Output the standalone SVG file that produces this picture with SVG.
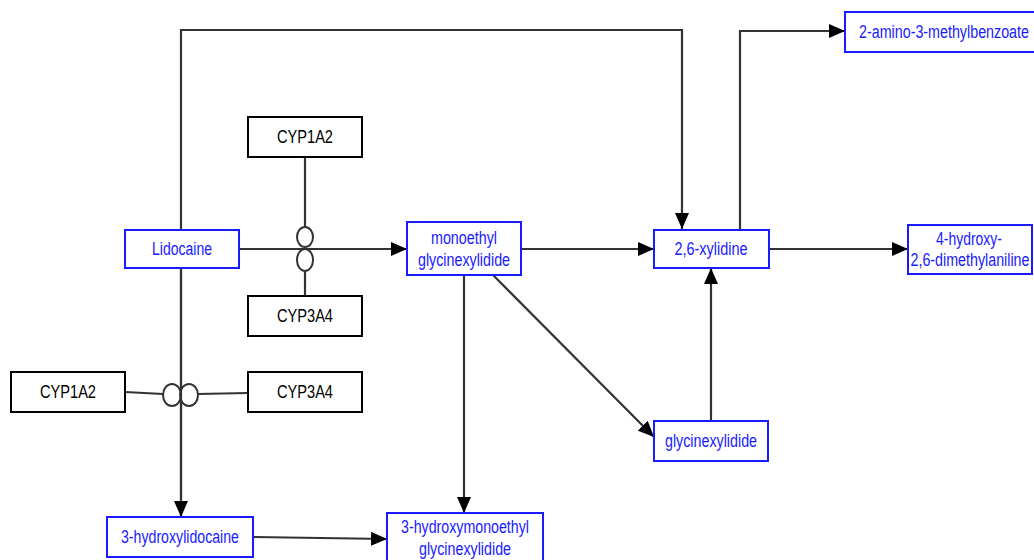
<svg xmlns="http://www.w3.org/2000/svg" width="1034" height="560" viewBox="0 0 1034 560">
<defs>
<marker id="arr" markerWidth="16" markerHeight="14" refX="16" refY="7" orient="auto" markerUnits="userSpaceOnUse">
<path d="M0,0 L16,7 L0,14 Z" fill="#000"/>
</marker>
<style>
.m rect{fill:#fff;stroke:#1a1aff;stroke-width:2}
.m text{fill:#1a1aff;font-family:"Liberation Sans Narrow","Liberation Sans",Arial,sans-serif;font-size:18px;text-anchor:middle}
.e rect{fill:#fff;stroke:#000;stroke-width:2}
.e text{fill:#000;font-family:"Liberation Sans Narrow","Liberation Sans",Arial,sans-serif;font-size:18px;text-anchor:middle}
.c path,.c line{fill:none;stroke:#333;stroke-width:2.2}
.c .a{marker-end:url(#arr)}
.c ellipse{fill:#fff;stroke:#333;stroke-width:2}
</style>
</defs>
<rect width="1034" height="560" fill="#fff"/>
<g class="c" id="connectors">
<path class="a" d="M181,230 V30 H682 V229"/>
<path class="a" d="M239,249 H407"/>
<path class="a" d="M181,268 V517"/>
<line x1="305" y1="157" x2="305" y2="227"/>
<line x1="305" y1="296" x2="305" y2="272"/>
<line x1="125" y1="392" x2="163" y2="394"/>
<line x1="198" y1="394" x2="248" y2="393"/>
<ellipse cx="305" cy="237" rx="8" ry="10"/>
<ellipse cx="305" cy="260" rx="8" ry="11"/>
<ellipse cx="172" cy="395" rx="9" ry="11"/>
<ellipse cx="189" cy="395" rx="9" ry="11"/>
<line x1="181" y1="268" x2="181" y2="500"/>
<path class="a" d="M521,249 H654"/>
<path class="a" d="M464,275 V513"/>
<path class="a" d="M493,275 L654,437"/>
<path class="a" d="M711,421 V268"/>
<path class="a" d="M740,229 V31 H845"/>
<path class="a" d="M769,249 H908"/>
<path class="a" d="M253,537 L387,539"/>
</g>
<g class="m" id="lidocaine"><rect x="125" y="230" width="114" height="38"/><text x="182" y="255" textLength="60" lengthAdjust="spacingAndGlyphs">Lidocaine</text></g>
<g class="m" id="megx"><rect x="407" y="222" width="114" height="53"/><text x="464" y="244" textLength="66" lengthAdjust="spacingAndGlyphs">monoethyl</text><text x="464" y="266" textLength="92" lengthAdjust="spacingAndGlyphs">glycinexylidide</text></g>
<g class="m" id="xylidine"><rect x="654" y="230" width="115" height="38"/><text x="711" y="255" textLength="73" lengthAdjust="spacingAndGlyphs">2,6-xylidine</text></g>
<g class="m" id="hydroxydma"><rect x="908" y="225" width="124" height="49"/><text x="969" y="245" textLength="66" lengthAdjust="spacingAndGlyphs">4-hydroxy-</text><text x="970" y="266" textLength="119" lengthAdjust="spacingAndGlyphs">2,6-dimethylaniline</text></g>
<g class="m" id="aminobenzoate"><rect x="845" y="12" width="195" height="40"/><text x="944" y="38" textLength="170" lengthAdjust="spacingAndGlyphs">2-amino-3-methylbenzoate</text></g>
<g class="m" id="gx"><rect x="654" y="421" width="114" height="40"/><text x="711" y="447" textLength="92" lengthAdjust="spacingAndGlyphs">glycinexylidide</text></g>
<g class="m" id="hydroxylidocaine"><rect x="107" y="517" width="146" height="40"/><text x="180" y="543" textLength="118" lengthAdjust="spacingAndGlyphs">3-hydroxylidocaine</text></g>
<g class="m" id="hydroxymegx"><rect x="387" y="513" width="156" height="52"/><text x="465" y="533" textLength="128" lengthAdjust="spacingAndGlyphs">3-hydroxymonoethyl</text><text x="465" y="555" textLength="92" lengthAdjust="spacingAndGlyphs">glycinexylidide</text></g>
<g class="e" id="cyp1a2-top"><rect x="248" y="117" width="114" height="40"/><text x="305" y="143" textLength="56" lengthAdjust="spacingAndGlyphs">CYP1A2</text></g>
<g class="e" id="cyp3a4-mid"><rect x="248" y="296" width="114" height="40"/><text x="305" y="322" textLength="56" lengthAdjust="spacingAndGlyphs">CYP3A4</text></g>
<g class="e" id="cyp1a2-left"><rect x="11" y="372" width="114" height="40"/><text x="68" y="398" textLength="56" lengthAdjust="spacingAndGlyphs">CYP1A2</text></g>
<g class="e" id="cyp3a4-right"><rect x="248" y="372" width="114" height="40"/><text x="305" y="398" textLength="56" lengthAdjust="spacingAndGlyphs">CYP3A4</text></g>
</svg>
